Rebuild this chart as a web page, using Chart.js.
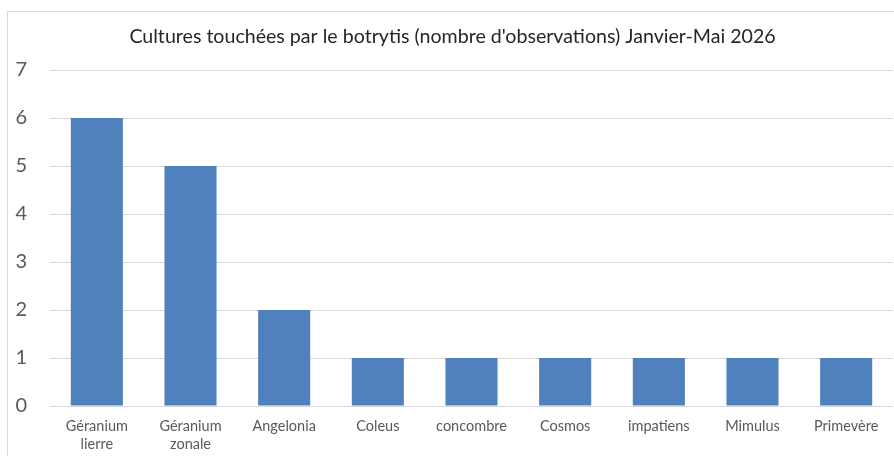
<!DOCTYPE html>
<html>
<head>
<meta charset="utf-8">
<script src="https://cdn.jsdelivr.net/npm/chart.js@4/dist/chart.umd.min.js"></script>
<style>
  html, body { margin: 0; padding: 0; background: #fff; overflow: hidden; }
  #frame { position: absolute; left: 7px; top: 11px; width: 900px; height: 460px; border: 1px solid #d9d9d9; }
  #wrap { position: absolute; left: 0; top: 0; width: 894px; height: 456px; }
</style>
</head>
<body>
<div id="frame"></div>
<div id="wrap"><canvas id="chart" width="894" height="456"></canvas></div>
<script>
// botrytis observations per crop, Jan-May 2026
const titleText = "Cultures touchées par le botrytis (nombre d'observations) Janvier-Mai 2026";
const categories = [
  ["Géranium", "lierre"],
  ["Géranium", "zonale"],
  "Angelonia",
  "Coleus",
  "concombre",
  "Cosmos",
  "impatiens",
  "Mimulus",
  "Primevère",
];
const observations = [6, 5, 2, 1, 1, 1, 1, 1, 1];
const yTicks = [0, 1, 2, 3, 4, 5, 6, 7];

const FONT = "Lato, 'Open Sans', sans-serif";

const ctx = document.getElementById("chart").getContext("2d");
new Chart(ctx, {
  type: "bar",
  data: {
    labels: categories,
    datasets: [{
      label: "Observations",
      data: observations,
      backgroundColor: "#4f81bd",
      borderWidth: 0,
      barPercentage: 1,
      categoryPercentage: 0.556,
    }],
  },
  options: {
    responsive: false,
    animation: false,
    // a bit of left padding nudges the title centre right, like the original frame
    layout: { padding: { left: 12, right: 1, top: 0, bottom: 0 } },
    plugins: {
      legend: { display: false },
      tooltip: { enabled: false },
      title: {
        display: true,
        text: titleText,
        color: "#262626",
        font: { family: FONT, size: 19.6, weight: "normal" },
        padding: { top: 25, bottom: 21.5 },
      },
    },
    scales: {
      x: {
        grid: { display: false, drawTicks: false },
        border: { display: false },
        ticks: {
          color: "#595959",
          font: { family: FONT, size: 14.5 },
          padding: 12,
          maxRotation: 0,
          autoSkip: false,
        },
        afterFit: (s) => { s.height = 50; },
      },
      y: {
        min: 0,
        max: 7,
        afterBuildTicks: (s) => { s.ticks = yTicks.map((v) => ({ value: v })); },
        grid: { color: "#d9d9d9", lineWidth: 1, drawTicks: false },
        border: { display: false },
        ticks: {
          color: "#595959",
          font: { family: FONT, size: 20 },
          padding: 23,
        },
        afterFit: (s) => { s.width = 38; },
      },
    },
  },
});
</script>
</body>
</html>
